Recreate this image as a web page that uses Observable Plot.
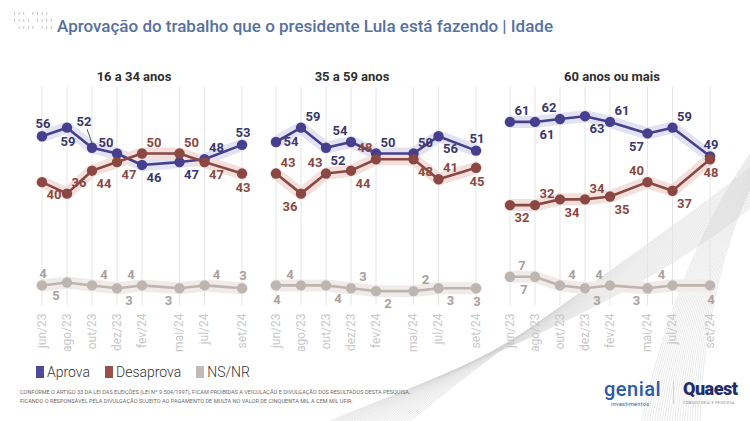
<!DOCTYPE html>
<html>
<head>
<meta charset="utf-8">
<script src="https://cdn.jsdelivr.net/npm/d3@7"></script>
<script src="https://cdn.jsdelivr.net/npm/@observablehq/plot@0.6"></script>
<style>
  html, body { margin: 0; padding: 0; background: #fff; }
  #page { position: relative; width: 750px; height: 421px; overflow: hidden; font-family: Roboto, "Noto Sans", sans-serif; background: #fff; }
  #deco { position: absolute; left: 0; top: 0; }
  #chart { position: absolute; left: 0; top: 0; }
  .title { position: absolute; left: 57px; top: 16px; font-size: 17px; font-weight: 500; color: #5571a2; white-space: nowrap; }
  .ptitle { position: absolute; top: 69px; font-size: 13px; font-weight: 700; color: #2f2f2f; white-space: nowrap; transform: translateX(-50%); }
  .legend { position: absolute; left: 36px; top: 364px; display: flex; align-items: center; font-size: 14px; font-weight: 300; color: #333; }
  .legend span.sw { display: inline-block; width: 8px; height: 12px; margin-right: 3px; }
  .legend span.lab { margin-right: 15px; }
  .genial { position: absolute; left: 604px; top: 378px; font-size: 20px; line-height: 22px; font-weight: 500; color: #2c5aa6; letter-spacing: 0.5px; }
  .genial2 { position: absolute; left: 611px; top: 401px; font-size: 5.5px; line-height: 6px; font-weight: 400; color: #2c5aa6; letter-spacing: 0.3px; }
  .quaest { position: absolute; left: 683px; top: 379px; font-size: 18px; line-height: 20px; font-weight: 900; color: #1f2c6d; letter-spacing: -0.5px; }
  .quaest2 { position: absolute; left: 683px; top: 401px; font-size: 3.5px; line-height: 4px; font-weight: 400; color: #7a7f9a; letter-spacing: 0.4px; white-space: nowrap; }
  .sep { position: absolute; left: 673px; top: 380px; width: 1px; height: 24px; background: #d8d8d8; }
</style>
</head>
<body>
<div id="page">
  <svg id="deco" width="750" height="421"></svg>
  <div class="title">Aprovação do trabalho que o presidente Lula está fazendo | Idade</div>
  <div id="ptitles"></div>
  <div id="chart"></div>
  <div class="legend" id="legend"></div>
  <svg style="position:absolute;left:0;top:388px" width="450" height="20">
    <text x="20" y="6" font-size="5.6" fill="#6a6a6a" textLength="390" lengthAdjust="spacingAndGlyphs" font-family="Roboto">CONFORME O ARTIGO 33 DA LEI DAS ELEIÇÕES (LEI Nº 9.504/1997), FICAM PROIBIDAS A VEICULAÇÃO E DIVULGAÇÃO DOS RESULTADOS DESTA PESQUISA,</text>
    <text x="20" y="14.5" font-size="5.6" fill="#6a6a6a" textLength="333" lengthAdjust="spacingAndGlyphs" font-family="Roboto">FICANDO O RESPONSÁVEL PELA DIVULGAÇÃO SUJEITO AO PAGAMENTO DE MULTA NO VALOR DE CINQUENTA MIL A CEM MIL UFIR.</text>
  </svg>
  <div class="genial">genial</div>
  <div class="genial2">investimentos</div>
  <div class="sep"></div>
  <div class="quaest">Quaest</div>
  <div class="quaest2">CONSULTORIA E PESQUISA</div>
</div>
<script>
// ---------------- DATA ----------------
const groups = ["16 a 34 anos", "35 a 59 anos", "60 anos ou mais"];
const months = ["jun/23", "ago/23", "out/23", "dez/23", "fev/24", "mai/24", "jul/24", "set/24"];
const monthSlot = [0, 1, 2, 3, 4, 5.5, 6.5, 8];
const seriesNames = ["Aprova", "Desaprova", "NS/NR"];

const aprova16a34    = [56, 59, 52, 50, 46, 47, 48, 53];
const desaprova16a34 = [40, 36, 44, 47, 50, 50, 47, 43];
const nsnr16a34      = [4, 5, 4, 3, 4, 3, 4, 3];

const aprova35a59    = [54, 59, 52, 54, 50, 50, 56, 51];
const desaprova35a59 = [43, 36, 43, 44, 48, 48, 41, 45];
const nsnr35a59      = [4, 4, 4, 3, 2, 2, 3, 3];

const aprova60mais    = [61, 61, 62, 63, 61, 57, 59, 49];
const desaprova60mais = [32, 32, 34, 34, 35, 40, 37, 48];
const nsnr60mais      = [7, 7, 4, 3, 4, 3, 4, 4];

// ---------------- STYLE (label placement, colours) ----------------
const place = {
  "16 a 34 anos": {
    "Aprova":    ["n", "s", "nn", "nw", "se", "se", "ne", "n"],
    "Desaprova": ["se", "ne", "se", "se", "ne", "ne", "se", "s"],
    "NS/NR":     ["n", "sw", "ne", "se", "nw", "sw", "ne", "n"]
  },
  "35 a 59 anos": {
    "Aprova":    ["e", "ne", "se", "nw", "ne", "ne", "se", "n"],
    "Desaprova": ["ne", "sw", "nw", "se", "nw", "se", "ne", "s"],
    "NS/NR":     ["s", "nw", "se", "ne", "se", "ne", "se", "s"]
  },
  "60 anos ou mais": {
    "Aprova":    ["ne", "se", "nw", "se", "ne", "sw", "ne", "n"],
    "Desaprova": ["se", "ne", "se", "ne", "se", "nw", "se", "s"],
    "NS/NR":     ["ne", "sw", "ne", "se", "nw", "sw", "nw", "s"]
  }
};
const offsets = {n: [1, -12], s: [1, 14], ne: [12, -11], se: [12, 13], nw: [-11, -11], sw: [-11, 13], e: [15, 0], nn: [-8, -26]};
const lineColor = {"Aprova": "#463f8e", "Desaprova": "#8b4842", "NS/NR": "#bfb5b0"};
const haloColor = {"Aprova": "#e2e2f2", "Desaprova": "#f3e0dd", "NS/NR": "#f0ebe9"};
const labelColor = {"Aprova": "#3b376f", "Desaprova": "#8a4943", "NS/NR": "#aaa19c"};
const legendColor = {"Aprova": "#4d4a9c", "Desaprova": "#9a504a", "NS/NR": "#c2bab7"};

// ---------------- BUILD TABLE ----------------
const valuesBy = {
  "16 a 34 anos": {"Aprova": aprova16a34, "Desaprova": desaprova16a34, "NS/NR": nsnr16a34},
  "35 a 59 anos": {"Aprova": aprova35a59, "Desaprova": desaprova35a59, "NS/NR": nsnr35a59},
  "60 anos ou mais": {"Aprova": aprova60mais, "Desaprova": desaprova60mais, "NS/NR": nsnr60mais}
};
const rows = [];
for (const g of groups) for (const s of seriesNames) valuesBy[g][s].forEach((v, i) => {
  rows.push({group: g, series: s, slot: monthSlot[i], month: months[i], value: v, place: place[g][s][i]});
});

// ---------------- MARKS ----------------
const marks = [Plot.ruleX(monthSlot, {stroke: "#e4e4e4", strokeWidth: 1})];
for (const s of seriesNames) {
  marks.push(Plot.line(rows, {filter: d => d.series === s, x: "slot", y: "value", z: "group",
    stroke: haloColor[s], strokeWidth: 12, strokeLinecap: "round", strokeLinejoin: "round"}));
}
for (const s of seriesNames) {
  marks.push(Plot.line(rows, {filter: d => d.series === s, x: "slot", y: "value", z: "group",
    stroke: lineColor[s], strokeWidth: 2.6}));
  marks.push(Plot.dot(rows, {filter: d => d.series === s, x: "slot", y: "value",
    r: 5.2, fill: lineColor[s], stroke: "none"}));
}
for (const s of seriesNames) for (const [code, [dx, dy]] of Object.entries(offsets)) {
  marks.push(Plot.text(rows, {filter: d => d.series === s && d.place === code, x: "slot", y: "value",
    text: d => String(d.value), dx, dy, fill: labelColor[s], fontSize: 13, fontWeight: 700}));
}
// leader line for the raised label
marks.push(Plot.link(rows, {filter: d => d.place === "nn", x1: "slot", x2: d => d.slot - 0.2,
  y1: d => d.value + 1.6, y2: d => d.value + 6.5, stroke: "#333", strokeWidth: 0.8}));

const chart = Plot.plot({
  width: 750, height: 360,
  marginLeft: 28.5, marginRight: 28.5, marginTop: 87, marginBottom: 55,
  facet: {data: rows, x: "group"},
  fx: {domain: groups, paddingInner: 0.0385, paddingOuter: 0, axis: null, label: null},
  x: {domain: [-0.5, 8.5], ticks: monthSlot, tickFormat: v => months[monthSlot.indexOf(v)],
      tickRotate: -90, tickSize: 0, tickPadding: 8, label: null},
  y: {domain: [-3, 73], axis: null},
  style: {fontFamily: "Roboto", fontSize: "12px", color: "#c8c8c8", background: "transparent", overflow: "visible"},
  marks
});
document.getElementById("chart").appendChild(chart);

// panel titles
const titleCenters = [134, 352, 612];
const pt = document.getElementById("ptitles");
groups.forEach((g, i) => {
  const d = document.createElement("div");
  d.className = "ptitle"; d.style.left = titleCenters[i] + "px"; d.textContent = g;
  pt.appendChild(d);
});

// legend
const lg = document.getElementById("legend");
seriesNames.forEach(s => {
  const sw = document.createElement("span"); sw.className = "sw"; sw.style.background = legendColor[s];
  const lb = document.createElement("span"); lb.className = "lab"; lb.textContent = s;
  lg.appendChild(sw); lg.appendChild(lb);
});

// decorative background: small dotted mark top-left and swoosh lines
const deco = d3.select("#deco");
const dotG = deco.append("g").attr("fill", "#c4c4c4");
d3.range(3).forEach(r => d3.range(9).forEach(c => {
  if ((r * 7 + c * 3) % 5 === 4) return;
  dotG.append("rect").attr("x", 14 + c * 4.6).attr("y", 12 + r * 7).attr("width", 1).attr("height", 3);
}));
const g1 = deco.append("g").attr("fill", "none").attr("stroke", "#c9c9c9").attr("stroke-width", 0.5).attr("opacity", 0.8);
d3.range(28).forEach(k => {
  const t = k / 27;
  g1.append("path").attr("d",
    `M ${330 + 80 * t} ${421} C ${480 + 40 * t} ${360 - 30 * t}, ${640 + 20 * t} ${300 - 60 * t}, ${760} ${200 - 40 * t}`);
});
const g2 = deco.append("g").attr("fill", "none").attr("stroke", "#cfcfcf").attr("stroke-width", 0.5).attr("opacity", 0.8);
d3.range(24).forEach(k => {
  const t = k / 23;
  g2.append("path").attr("d",
    `M ${640 + 60 * t} ${430} C ${660 + 40 * t} ${330}, ${700 + 30 * t} ${220}, ${760} ${140 + 30 * t}`);
});
</script>
</body>
</html>
